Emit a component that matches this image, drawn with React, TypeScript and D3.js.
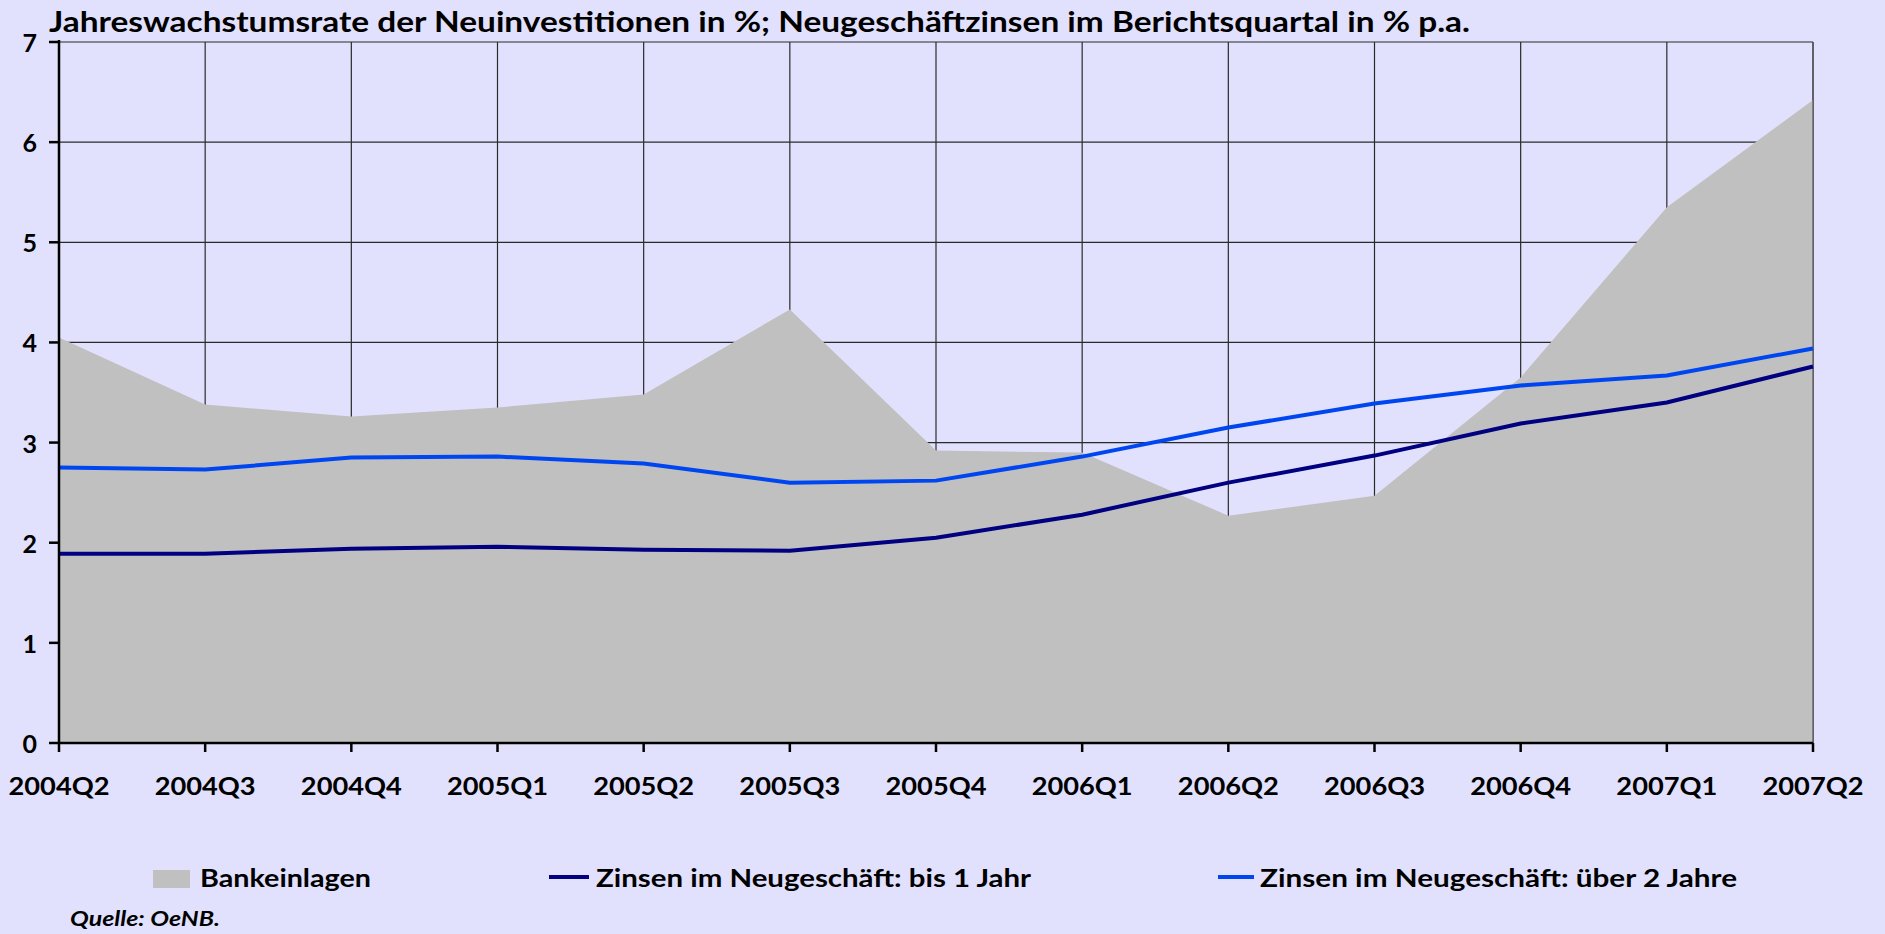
import React from "react";
import * as d3 from "d3";

// quarters on the x axis
const quarters = [
  "2004Q2", "2004Q3", "2004Q4", "2005Q1", "2005Q2", "2005Q3", "2005Q4",
  "2006Q1", "2006Q2", "2006Q3", "2006Q4", "2007Q1", "2007Q2",
];

// Jahreswachstumsrate Bankeinlagen (area)
const bankeinlagen = [4.05, 3.38, 3.26, 3.35, 3.48, 4.33, 2.92, 2.9, 2.27, 2.47, 3.65, 5.35, 6.42];
// Zinsen im Neugeschäft: bis 1 Jahr
const bis1Jahr = [1.89, 1.89, 1.94, 1.96, 1.93, 1.92, 2.05, 2.28, 2.6, 2.87, 3.19, 3.4, 3.76];
// Zinsen im Neugeschäft: über 2 Jahre
const ueber2Jahre = [2.75, 2.73, 2.85, 2.86, 2.79, 2.6, 2.62, 2.86, 3.15, 3.39, 3.57, 3.67, 3.94];

const yTicks = [0, 1, 2, 3, 4, 5, 6, 7];
const seriesNames = [
  "Bankeinlagen",
  "Zinsen im Neugeschäft: bis 1 Jahr",
  "Zinsen im Neugeschäft: über 2 Jahre",
];
const title =
  "Jahreswachstumsrate der Neuinvestitionen in %; Neugeschäftzinsen im Berichtsquartal in % p.a.";
const source = "Quelle: OeNB.";

const W = 1885;
const H = 934;
const left = 59;
const right = 1813;
const top = 42;
const bottom = 743;

const BG = "#e1e1fd";
const GRAY = "#c0c0c0";
const NAVY = "#000080";
const BLUE = "#0046f0";
const font = "Lato, 'Open Sans', sans-serif";

export default function App() {
  const x = d3.scalePoint<string>().domain(quarters).range([left, right]);
  const y = d3.scaleLinear().domain([0, 7]).range([bottom, top]);

  const area = d3
    .area<number>()
    .x((d, i) => x(quarters[i])!)
    .y0(y(0))
    .y1((d) => y(d));
  const line = d3
    .line<number>()
    .x((d, i) => x(quarters[i])!)
    .y((d) => y(d));

  return (
    <>
      <style>{`body{margin:0;background:${BG};}`}</style>
      <svg width={W} height={H} style={{ display: "block", background: BG }} fontFamily={font}>
        <rect width={W} height={H} fill={BG} />

        {/* grid */}
        <g stroke="#2a2a2a" strokeWidth={1.2}>
          {yTicks.filter((t) => t > 0).map((t) => (
            <line key={t} x1={left} x2={right} y1={y(t)} y2={y(t)} />
          ))}
          {quarters.map((q) => (
            <line key={q} x1={x(q)} x2={x(q)} y1={top} y2={bottom} />
          ))}
        </g>

        <path d={area(bankeinlagen)!} fill={GRAY} />
        <line x1={right} x2={right} y1={top} y2={bottom} stroke="#555" strokeWidth={1.2} />

        <path d={line(ueber2Jahre)!} fill="none" stroke={BLUE} strokeWidth={4} />
        <path d={line(bis1Jahr)!} fill="none" stroke={NAVY} strokeWidth={4} />

        {/* axes */}
        <g stroke="#000" strokeWidth={2.5}>
          <line x1={left} x2={left} y1={top - 2} y2={bottom} />
          <line x1={left} x2={right} y1={bottom} y2={bottom} />
          {yTicks.map((t) => (
            <line key={t} x1={left - 10} x2={left} y1={y(t)} y2={y(t)} />
          ))}
          {quarters.map((q) => (
            <line key={q} x1={x(q)} x2={x(q)} y1={bottom} y2={bottom + 9} />
          ))}
        </g>
        <g fontWeight="bold" fontSize={25} fill="#000">
          {yTicks.map((t) => (
            <text key={t} x={37} y={y(t)} textAnchor="end" dominantBaseline="central">
              {t}
            </text>
          ))}
          {quarters.map((q) => (
            <text
              key={q}
              x={x(q)}
              y={795}
              textAnchor="middle"
              textLength={101}
              lengthAdjust="spacingAndGlyphs"
            >
              {q}
            </text>
          ))}
        </g>

        <text x={49} y={32} fontWeight="bold" fontSize={29} textLength={1421} lengthAdjust="spacingAndGlyphs">
          {title}
        </text>

        {/* legend */}
        <g fontWeight="bold" fontSize={25}>
          <rect x={153} y={870} width={37} height={18} fill={GRAY} />
          <text x={200} y={887} textLength={171} lengthAdjust="spacingAndGlyphs">{seriesNames[0]}</text>
          <line x1={549} x2={589} y1={877} y2={877} stroke={NAVY} strokeWidth={4} />
          <text x={596} y={887} textLength={435} lengthAdjust="spacingAndGlyphs">{seriesNames[1]}</text>
          <line x1={1218} x2={1254} y1={877} y2={877} stroke={BLUE} strokeWidth={4} />
          <text x={1260} y={887} textLength={477} lengthAdjust="spacingAndGlyphs">{seriesNames[2]}</text>
        </g>
        <text x={70} y={926} fontWeight="bold" fontStyle="italic" fontSize={20} textLength={150} lengthAdjust="spacingAndGlyphs">
          {source}
        </text>
      </svg>
    </>
  );
}
